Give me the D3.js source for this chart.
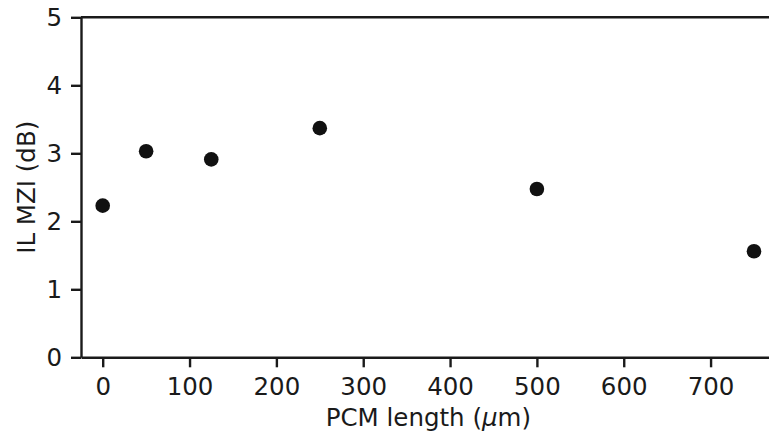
<!DOCTYPE html>
<html>
<head>
<meta charset="utf-8">
<script src="https://cdn.jsdelivr.net/npm/d3@7"></script>
<style>
  body { margin: 0; background: #fff; }
  svg { display: block; }
</style>
</head>
<body>
<div id="chart"></div>
<script>
// PCM length vs MZI insertion loss
const lengths = [0, 50, 125, 250, 500, 750];
const ilMzi = [2.23, 3.03, 2.91, 3.37, 2.475, 1.56];
const xTicks = [0, 100, 200, 300, 400, 500, 600, 700];
const yTicks = [0, 1, 2, 3, 4, 5];

const W = 769, H = 440;
const ink = "#1a1a1a";
const fontFam = "'DejaVu Sans', sans-serif";
const fs = "24.5px";

const svg = d3.select("#chart").append("svg")
    .attr("width", W)
    .attr("height", H);

// scales - right spine sits just off the picture
const x = d3.scaleLinear().domain([-25, 775]).range([81, 775.7]);
const y = d3.scaleLinear().domain([0, 5]).range([357.3, 17.3]);

// axes
const xAxis = svg.append("g")
    .attr("transform", `translate(0,${y(0)})`)
    .call(d3.axisBottom(x).tickValues(xTicks).tickSize(10).tickSizeOuter(0).tickPadding(10))
    .attr("font-family", fontFam)
    .attr("font-size", fs);

const yAxis = svg.append("g")
    .attr("transform", `translate(${x(-25)},0)`)
    .call(d3.axisLeft(y).tickValues(yTicks).tickFormat(d3.format("d")).tickSize(10).tickSizeOuter(0).tickPadding(9))
    .attr("font-family", fontFam)
    .attr("font-size", fs);

[xAxis, yAxis].forEach(g => {
    g.selectAll("path, line").attr("stroke", ink).attr("stroke-width", 2.4);
    g.selectAll("text").attr("fill", ink);
});

// top spine
svg.append("line")
    .attr("x1", x(-25)).attr("x2", x(775))
    .attr("y1", y(5)).attr("y2", y(5))
    .attr("stroke", ink)
    .attr("stroke-width", 2.4);

// points
svg.selectAll(".pt")
    .data(lengths.map((l, i) => ({ l, v: ilMzi[i] })))
    .enter()
    .append("circle")
    .attr("class", "pt")
    .attr("cx", d => x(d.l))
    .attr("cy", d => y(d.v))
    .attr("r", 7.3)
    .attr("fill", "#111");

// axis labels
const xLab = svg.append("text")
    .attr("x", (x(-25) + x(775)) / 2)
    .attr("y", 426)
    .attr("text-anchor", "middle")
    .attr("font-family", fontFam)
    .attr("font-size", fs)
    .attr("fill", ink);
xLab.append("tspan").text("PCM length (");
xLab.append("tspan").attr("font-style", "italic").text("μ");
xLab.append("tspan").text("m)");

svg.append("text")
    .attr("transform", `translate(34.5,${(y(0) + y(5)) / 2}) rotate(-90)`)
    .attr("text-anchor", "middle")
    .attr("font-family", fontFam)
    .attr("font-size", fs)
    .attr("fill", ink)
    .text("IL MZI (dB)");
</script>
</body>
</html>
